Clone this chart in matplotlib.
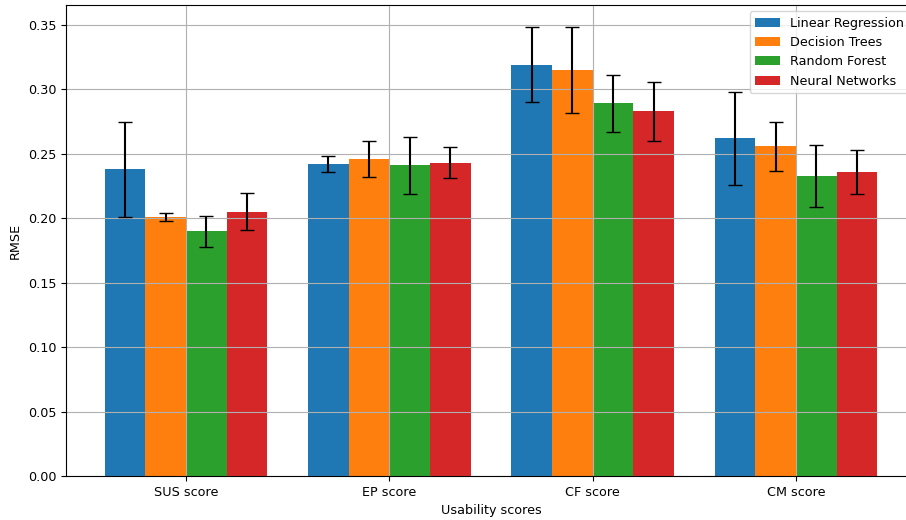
import numpy as np
import matplotlib.pyplot as plt

# RMSE per usability score for each model, with std deviations
scores = ["SUS score", "EP score", "CF score", "CM score"]
models = ["Linear Regression", "Decision Trees", "Random Forest", "Neural Networks"]

lin_reg = [0.238, 0.242, 0.319, 0.262]
dec_tree = [0.201, 0.246, 0.315, 0.256]
rand_forest = [0.190, 0.241, 0.289, 0.233]
neural_net = [0.205, 0.243, 0.283, 0.236]

lin_reg_err = [0.037, 0.006, 0.029, 0.036]
dec_tree_err = [0.003, 0.014, 0.033, 0.019]
rand_forest_err = [0.012, 0.022, 0.022, 0.024]
neural_net_err = [0.0145, 0.012, 0.023, 0.017]

means = [lin_reg, dec_tree, rand_forest, neural_net]
errs = [lin_reg_err, dec_tree_err, rand_forest_err, neural_net_err]

plt.rcParams["font.size"] = 9.2

fig = plt.figure(figsize=(9.06, 5.2), dpi=100)
ax = fig.add_axes([66 / 906, 44 / 520, 850 / 906, 471 / 520])

x = np.arange(len(scores))
width = 0.2
for i, (m, e, name) in enumerate(zip(means, errs, models)):
    ax.bar(x + (i - 1.5) * width, m, width, yerr=e, capsize=5, label=name)

ax.set_xticks(x)
ax.set_xticklabels(scores)
ax.set_xlabel("Usability scores")
ax.set_ylabel("RMSE")
ax.legend(loc="upper right")
ax.grid(True)

fig.savefig("out.png", dpi=100)
